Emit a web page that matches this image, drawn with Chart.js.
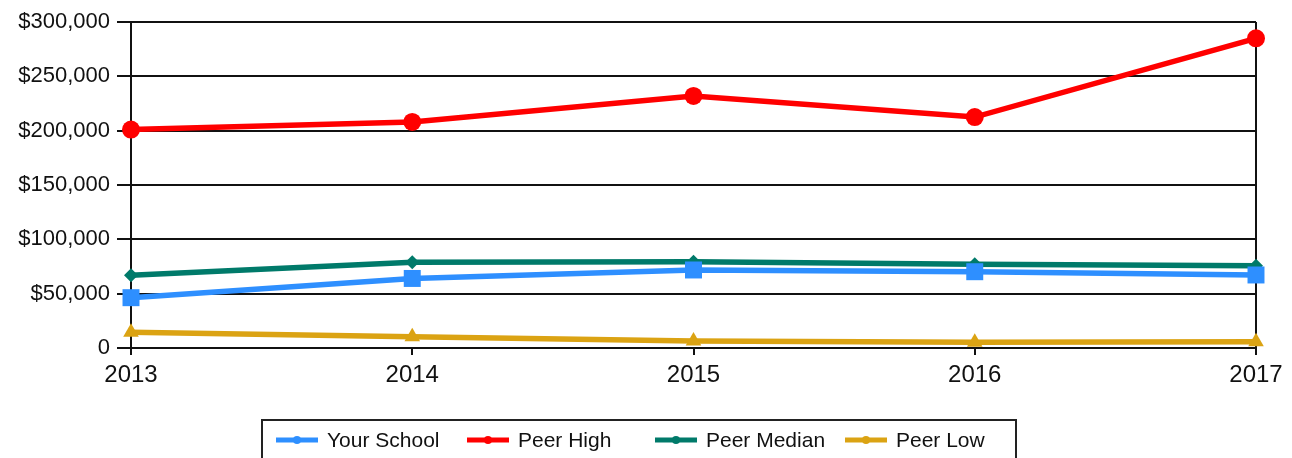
<!DOCTYPE html>
<html>
<head>
<meta charset="utf-8">
<script src="https://cdn.jsdelivr.net/npm/chart.js@4/dist/chart.umd.min.js"></script>
<style>
  html, body { margin: 0; padding: 0; background: #fff; }
  #wrap { width: 1292px; height: 458px; }
</style>
</head>
<body>
<div id="wrap"><canvas id="chart" width="1292" height="458"></canvas></div>
<script>
// values
const years = ['2013', '2014', '2015', '2016', '2017']
const yourSchool = [46300, 64000, 71800, 70200, 67200]
const peerHigh = [201000, 208000, 232000, 212500, 285000]
const peerMedian = [67000, 78800, 79400, 77000, 75700]
const peerLow = [14400, 10400, 6400, 5200, 5800]
const yTicks = [0, 50000, 100000, 150000, 200000, 250000, 300000]

const FONT = "'Liberation Sans', Arial, sans-serif"

function series(label, data, color, style, radius) {
    return {
        label: label,
        data: data,
        borderColor: color,
        backgroundColor: color,
        borderWidth: 5.5,
        pointStyle: style,
        pointRadius: radius,
        pointHoverRadius: radius,
        pointBorderWidth: 0,
        tension: 0,
        clip: false
    }
}

// legend drawn by hand so it sits in a framed box like the original
const boxLegend = {
    id: 'boxLegend',
    afterDraw(chart) {
        const ctx = chart.ctx
        const items = chart.data.datasets
        const starts = [276, 467, 655, 845]
        ctx.save()
        ctx.strokeStyle = '#222'
        ctx.lineWidth = 2
        ctx.strokeRect(262, 420, 754, 60)
        ctx.font = '21px ' + FONT
        ctx.textBaseline = 'middle'
        items.forEach((ds, i) => {
            const x = starts[i]
            const y = 440
            ctx.strokeStyle = ds.borderColor
            ctx.fillStyle = ds.borderColor
            ctx.lineWidth = 5
            ctx.beginPath()
            ctx.moveTo(x, y)
            ctx.lineTo(x + 42, y)
            ctx.stroke()
            ctx.beginPath()
            ctx.arc(x + 21, y, 4, 0, Math.PI * 2)
            ctx.fill()
            ctx.fillStyle = '#111'
            ctx.fillText(ds.label, x + 51, y + 1)
        })
        ctx.restore()
    }
}

new Chart(document.getElementById('chart').getContext('2d'), {
    type: 'line',
    data: {
        labels: years,
        datasets: [
            series('Your School', yourSchool, '#2e8fff', 'rect', 12),
            series('Peer High', peerHigh, '#ff0000', 'circle', 9),
            series('Peer Median', peerMedian, '#007a6a', 'rectRot', 7),
            series('Peer Low', peerLow, '#dba313', 'triangle', 9)
        ]
    },
    options: {
        responsive: false,
        animation: false,
        layout: { padding: { top: 22, right: 36, left: 0, bottom: 0 } },
        plugins: {
            legend: { display: false },
            tooltip: { enabled: false }
        },
        scales: {
            x: {
                offset: false,
                afterFit: s => { s.height = 110 },
                grid: {
                    color: c => c.index === years.length - 1 ? '#111' : 'rgba(0,0,0,0)',
                    lineWidth: 2,
                    drawTicks: true,
                    tickLength: 7,
                    tickColor: '#111',
                    tickWidth: 2
                },
                border: { display: true, color: '#111', width: 2 },
                ticks: {
                    color: '#111',
                    padding: 6,
                    maxRotation: 0,
                    font: { family: FONT, size: 24 }
                }
            },
            y: {
                min: 0,
                max: 300000,
                afterFit: s => { s.width = 131 },
                afterBuildTicks: s => { s.ticks = yTicks.map(v => ({ value: v })) },
                grid: {
                    color: '#111',
                    lineWidth: 2,
                    tickLength: 14,
                    tickColor: '#111'
                },
                border: { display: true, color: '#111', width: 2 },
                ticks: {
                    color: '#111',
                    padding: 7,
                    font: { family: FONT, size: 22 },
                    callback: v => v === 0 ? '0' : '$' + v.toLocaleString('en-US')
                }
            }
        }
    },
    plugins: [boxLegend]
})
</script>
</body>
</html>
